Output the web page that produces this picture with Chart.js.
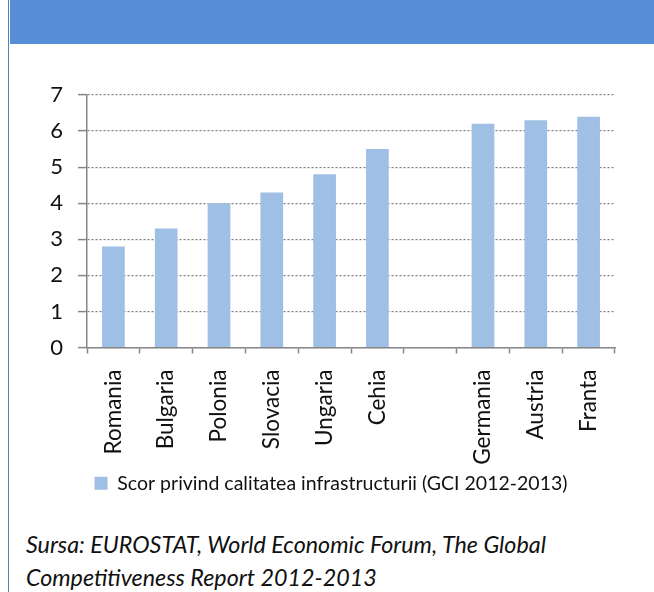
<!DOCTYPE html>
<html>
<head>
<meta charset="utf-8">
<script src="https://cdn.jsdelivr.net/npm/chart.js@4"></script>
<style>
    body { margin: 0; background: #ffffff; width: 654px; height: 592px; overflow: hidden; position: relative; font-family: Lato, sans-serif; }
    #border { position: absolute; left: 8px; top: 0; width: 1px; height: 592px; background: #4f81bd; }
    #header { position: absolute; left: 10px; top: 0; width: 644px; height: 44px; background: #558ed5; }
    #chart-box { position: absolute; left: 10px; top: 50px; }
    #source { position: absolute; left: 26px; top: 528px; font-style: italic; font-size: 23.3px; line-height: 33px; color: #111; }
</style>
</head>
<body>
<div id="border"></div>
<div id="header"></div>
<div id="chart-box"><canvas id="infraChart" width="644" height="453"></canvas></div>
<div id="source">Sursa: EUROSTAT, World Economic Forum, The Global<br>Competitiveness Report 2012-2013</div>
<script>
// date
const countries = ['Romania', 'Bulgaria', 'Polonia', 'Slovacia', 'Ungaria', 'Cehia', '', 'Germania', 'Austria', 'Franta'];
const scores = [2.8, 3.3, 4.0, 4.3, 4.8, 5.5, null, 6.2, 6.3, 6.4];
const yTicks = [0, 1, 2, 3, 4, 5, 6, 7];
const seriesLabel = 'Scor privind calitatea infrastructurii (GCI 2012-2013)';

Chart.defaults.font.family = 'Lato';
Chart.defaults.color = '#111';

const ctx = document.getElementById('infraChart').getContext('2d');

new Chart(ctx, {
    type: 'bar',
    data: {
        labels: countries,
        datasets: [{
            label: seriesLabel,
            data: scores,
            backgroundColor: '#9fbfe5',
            borderWidth: 0,
            categoryPercentage: 1,
            barPercentage: 0.43
        }]
    },
    options: {
        responsive: false,
        animation: false,
        layout: {
            padding: { top: 45, left: 37, right: 39, bottom: 0 }
        },
        scales: {
            x: {
                grid: {
                    display: true,
                    drawOnChartArea: false,
                    drawTicks: true,
                    tickLength: 6,
                    tickColor: '#868686',
                    tickWidth: 1.5
                },
                border: { display: true, color: '#868686', width: 1.5 },
                ticks: {
                    minRotation: 90,
                    maxRotation: 90,
                    padding: 16,
                    autoSkip: false,
                    font: { size: 22.5 },
                    color: '#111'
                },
                afterFit: function(scale) {
                    scale.height = 120;
                }
            },
            y: {
                min: yTicks[0],
                max: yTicks[yTicks.length - 1],
                grid: {
                    color: '#7f7f7f',
                    lineWidth: 1.2,
                    tickLength: 9,
                    tickColor: '#868686',
                    tickWidth: 1.5,
                    tickBorderDash: []
                },
                border: { display: true, color: '#868686', width: 1.5, dash: [2, 2] },
                ticks: {
                    stepSize: 1,
                    padding: 15,
                    font: { size: 22 },
                    color: '#111',
                    callback: function(value) {
                        return yTicks.includes(value) ? String(value) : '';
                    }
                },
                afterFit: function(scale) {
                    scale.width = 40;
                }
            }
        },
        plugins: {
            legend: {
                position: 'bottom',
                labels: {
                    boxWidth: 13,
                    boxHeight: 13,
                    padding: 6,
                    font: { size: 19.5 },
                    color: '#111'
                }
            },
            tooltip: { enabled: false }
        }
    }
});
</script>
</body>
</html>
